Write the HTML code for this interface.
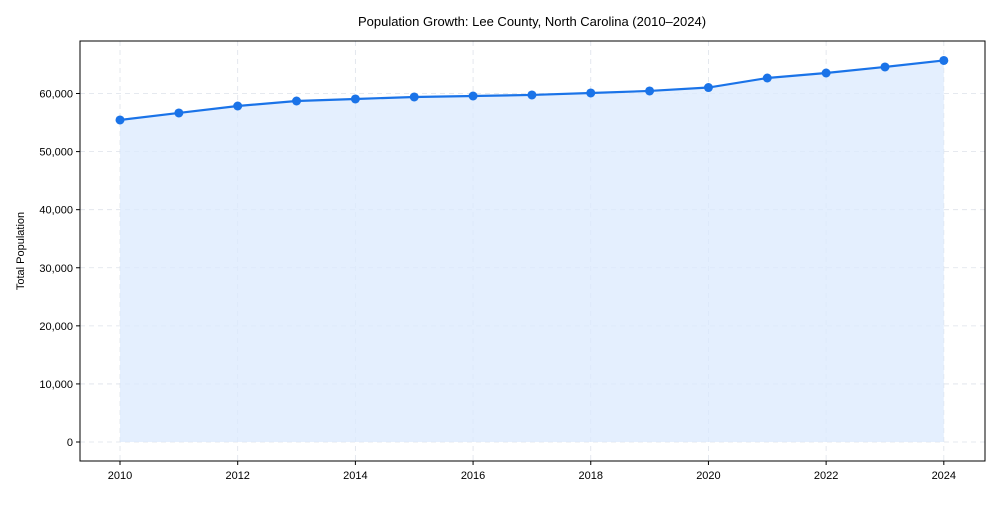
<!DOCTYPE html>
<html><head><meta charset="utf-8"><style>
body{margin:0;background:#fff;font-family:"Liberation Sans",sans-serif}
</style></head><body>
<svg id="chart" width="1000" height="500" xmlns="http://www.w3.org/2000/svg"></svg>
<script>
const years=[2010,2011,2012,2013,2014,2015,2016,2017,2018,2019,2020,2021,2022,2023,2024];
const population=[55440,56650,57850,58710,59060,59400,59570,59750,60090,60440,61030,62670,63530,64570,65690];
const yTicks=[0,10000,20000,30000,40000,50000,60000];
const xTicks=[2010,2012,2014,2016,2018,2020,2022,2024];
const L=80,R=985,T=41,B=461;
const xMin=2009.32,xMax=2024.70,yMin=-3270,yMax=69040;
const sx=v=>L+(v-xMin)/(xMax-xMin)*(R-L);
const sy=v=>B-(v-yMin)/(yMax-yMin)*(B-T);
const svg=document.getElementById('chart');
const NS='http://www.w3.org/2000/svg';
function mk(tag,attrs,parent){const e=document.createElementNS(NS,tag);for(const k in attrs)e.setAttribute(k,attrs[k]);(parent||svg).appendChild(e);return e;}
// grid
yTicks.forEach(v=>{const l=mk('line',{x1:L,x2:R,y1:sy(v),y2:sy(v),stroke:'#dde2ea','stroke-dasharray':'5,4','stroke-width':0.8});

});
xTicks.forEach(v=>{const l=mk('line',{x1:sx(v),x2:sx(v),y1:T,y2:B,stroke:'#dde2ea','stroke-dasharray':'5,4','stroke-width':0.8});

});
// area
let d='M'+sx(years[0])+','+sy(0);
years.forEach((y,i)=>d+=' L'+sx(y)+','+sy(population[i]));
d+=' L'+sx(years[years.length-1])+','+sy(0)+' Z';
const area=mk('path',{d:d,fill:'#dbe9fd','fill-opacity':0.75});


// line
const line=mk('polyline',{points:years.map((y,i)=>sx(y)+','+sy(population[i])).join(' '),fill:'none',stroke:'#1a73e8','stroke-width':2.2});


years.forEach((y,i)=>{const c=mk('circle',{cx:sx(y),cy:sy(population[i]),r:4.5,fill:'#1a73e8'});

});
// frame
const fr=mk('rect',{x:L,y:T,width:R-L,height:B-T,fill:'none',stroke:'#000','stroke-width':1});


// ticks
yTicks.forEach(v=>{mk('line',{x1:L-4,x2:L,y1:sy(v),y2:sy(v),stroke:'#000'});
const t=mk('text',{x:L-7,y:sy(v)+4,'text-anchor':'end','font-size':11,fill:'#000'});t.textContent=v.toLocaleString('en-US');

});
xTicks.forEach(v=>{mk('line',{x1:sx(v),x2:sx(v),y1:B,y2:B+4,stroke:'#000'});
const t=mk('text',{x:sx(v),y:B+18,'text-anchor':'middle','font-size':11,fill:'#000'});t.textContent=v;

});
const title=mk('text',{x:532,y:26,'text-anchor':'middle','font-size':13,fill:'#000'});
title.textContent='Population Growth: Lee County, North Carolina (2010–2024)';


const yl=mk('text',{x:0,y:0,'text-anchor':'middle','font-size':11,fill:'#000',transform:'translate(24,251) rotate(-90)'});
yl.textContent='Total Population';


</script>
</body></html>
